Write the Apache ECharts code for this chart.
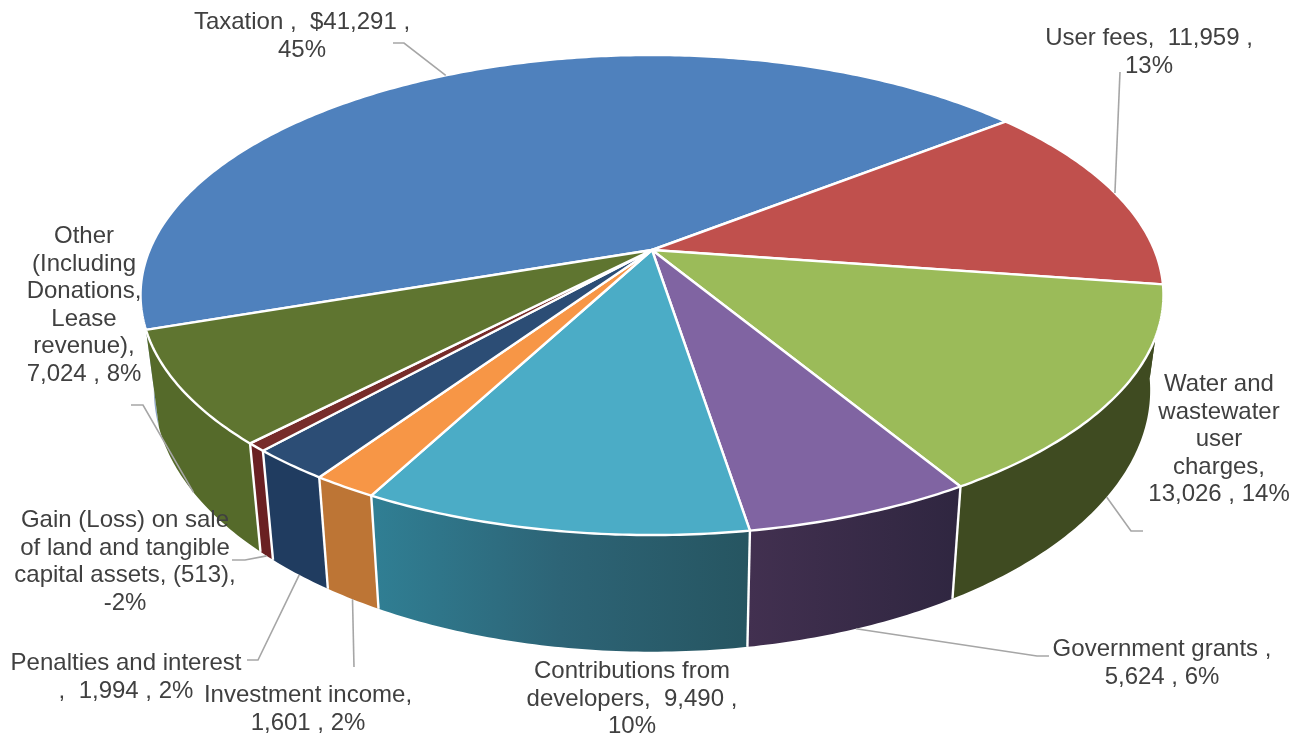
<!DOCTYPE html>
<html>
<head>
<meta charset="utf-8">
<title>Revenue by source</title>
<script src="https://cdn.jsdelivr.net/npm/echarts@6/dist/echarts.min.js"></script>
<style>
  html, body { margin: 0; padding: 0; background: #ffffff; }
  #chart { width: 1303px; height: 734px; }
</style>
</head>
<body>
<div id="chart"></div>
<script>
// Revenue sources; the loss on sale keeps its sign but is sized by magnitude.
const categories = ['Taxation', 'User fees', 'Water and wastewater user charges', 'Government grants',
  'Contributions from developers', 'Investment income', 'Penalties and interest',
  'Gain (Loss) on sale of land and tangible capital assets', 'Other (Including Donations, Lease revenue)'];
const values = [41291, 11959, 13026, 5624, 9490, 1601, 1994, -513, 7024];

const labelTexts = [
  'Taxation ,  $41,291 ,\n45%',
  'User fees,  11,959 ,\n13%',
  'Water and\nwastewater\nuser\ncharges,\n13,026 , 14%',
  'Government grants ,\n5,624 , 6%',
  'Contributions from\ndevelopers,  9,490 ,\n10%',
  'Investment income,\n1,601 , 2%',
  'Penalties and interest\n,  1,994 , 2%',
  'Gain (Loss) on sale\nof land and tangible\ncapital assets, (513),\n-2%',
  'Other\n(Including\nDonations,\nLease\nrevenue),\n7,024 , 8%'
];

const faceColors = ['#4f81bd', '#c0504d', '#9bbb59', '#8064a2', '#4bacc6', '#f79646', '#2c4d75', '#772c2a', '#5f7530'];
const wallColors = ['#8ea6c6', '#3f4b21', '#3f4b21', null, null, '#bd7535', '#203c60', '#6a2022', '#556a2a'];
const wallGradients = {
  3: ['#423050', '#2f2640'],
  4: ['#307f94', '#2d6476', '#265561']
};

// Label placement: text centre x and top y, then the leader's elbow and free end.
const labelBoxes = [
  [302, 9], [1149, 25], [1219, 371], [1162, 636], [632, 658], [308, 682], [126, 650], [125, 507], [84, 223]
];
const leaders = [
  { rim: 'top', path: [[404, 43], [393, 43]] },
  { rim: 'top', path: [[1120, 72]] },
  { rim: 'bottom', path: [[1131, 531], [1143, 531]] },
  { rim: 'bottom', path: [[1037, 656], [1049, 656]] },
  null,
  { rim: 'bottom', path: [[354, 667]] },
  { rim: 'bottom', path: [[258, 660], [247, 660]] },
  { rim: 'bottom', path: [[245, 560], [232, 560]] },
  { rim: 'bottom', path: [[143, 405], [131, 405]] }
];

// Tilted-disc projection of the pie: the near side of each rim is drawn larger.
const firstSliceAngle = 251.1;
const disc = { cx: 652, cy: 250, a: 502.4, b: 231.6, k: 0.1875 };
const base = { cy: 341, xScale: 0.974, yScale: 1.09 };

function project(angleDeg, plane) {
  const t = angleDeg * Math.PI / 180;
  const x = Math.sin(t);
  const y = -Math.cos(t);
  const w = 1 - disc.k * y;
  const px = disc.a * x / w;
  const py = disc.b * y / w;
  return plane === 'top'
    ? [disc.cx + px, disc.cy + py]
    : [disc.cx + base.xScale * px, base.cy + base.yScale * py];
}

const magnitudes = values.map(Math.abs);
const total = magnitudes.reduce((s, v) => s + v, 0);
const sweeps = [];
magnitudes.reduce((start, v) => {
  const end = start + v / total * 360;
  sweeps.push([start, end]);
  return end;
}, firstSliceAngle);

function arc(start, end, plane) {
  const n = Math.max(2, Math.ceil((end - start) * 1.5));
  const pts = [];
  for (let i = 0; i <= n; i++) pts.push(project(start + (end - start) * i / n, plane));
  return pts;
}

function wallFill(i) {
  const stops = wallGradients[i];
  if (!stops) return wallColors[i];
  return new echarts.graphic.LinearGradient(0, 0, 1, 0,
    stops.map((c, j) => ({ offset: j / (stops.length - 1), color: c })));
}

const renderWall = (p) => {
  const [s, e] = sweeps[p.dataIndex];
  const pts = arc(s, e, 'top').concat(arc(s, e, 'bottom').reverse());
  return { type: 'polygon', shape: { points: pts }, style: { fill: wallFill(p.dataIndex) } };
};

const renderEdge = (p) => {
  const s = sweeps[p.dataIndex][0] % 360;
  if (s < 100 || s > 250) return null;
  return {
    type: 'line',
    shape: { x1: project(s, 'top')[0], y1: project(s, 'top')[1], x2: project(s, 'bottom')[0], y2: project(s, 'bottom')[1] },
    style: { stroke: '#ffffff', lineWidth: 2.4 }
  };
};

const renderFace = (p) => {
  const [s, e] = sweeps[p.dataIndex];
  return {
    type: 'polygon',
    shape: { points: [[disc.cx, disc.cy]].concat(arc(s, e, 'top')) },
    style: { fill: faceColors[p.dataIndex], stroke: '#ffffff', lineWidth: 2.4, lineJoin: 'round' }
  };
};

const renderLeader = (p) => {
  const leader = leaders[p.dataIndex];
  if (!leader) return null;
  const [s, e] = sweeps[p.dataIndex];
  return {
    type: 'polyline',
    shape: { points: [project((s + e) / 2, leader.rim)].concat(leader.path) },
    style: { fill: null, stroke: '#a6a6a6', lineWidth: 1.6 }
  };
};

const renderLabel = (p) => ({
  type: 'text',
  style: {
    text: labelTexts[p.dataIndex],
    x: labelBoxes[p.dataIndex][0],
    y: labelBoxes[p.dataIndex][1],
    align: 'center',
    verticalAlign: 'top',
    fill: '#404040',
    font: '24px "Liberation Sans", Arial, sans-serif',
    lineHeight: 27.5
  }
});

const pieData = categories.map((name, i) => ({ name, value: values[i] }));
const layer = (z, renderItem) => ({
  type: 'custom',
  coordinateSystem: 'none',
  silent: true,
  z,
  clip: false,
  animation: false,
  data: pieData,
  renderItem
});

const chart = echarts.init(document.getElementById('chart'), null, { renderer: 'canvas' });
chart.setOption({
  backgroundColor: '#ffffff',
  animation: false,
  series: [
    layer(1, renderWall),
    layer(2, renderEdge),
    layer(3, renderFace),
    layer(4, renderLeader),
    layer(5, renderLabel)
  ]
});
</script>
</body>
</html>
